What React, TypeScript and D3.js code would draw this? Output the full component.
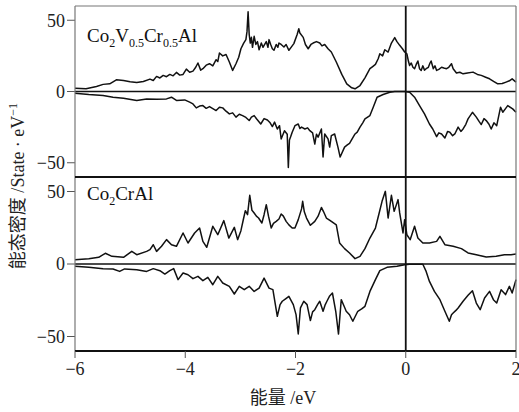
import React from "react";
import * as d3 from "d3";

// Energy relative to the Fermi level (eV) and density of states (states/eV)
const energyTicks = [-6, -4, -2, 0, 2];
const dosTicks = [-50, 0, 50];

// Co2V0.5Cr0.5Al, spin up
const vcrUp: [number, number][] = [
  [-6.0, 2.3], [-5.8, 2.0], [-5.61, 3.5], [-5.49, 5], [-5.37, 5.4], [-5.25, 8.2], [-5.12, 7.7],
  [-5.0, 6.8], [-4.88, 6.3], [-4.76, 7], [-4.64, 8.7], [-4.58, 7.7], [-4.52, 10.6], [-4.46, 9.5],
  [-4.4, 11.3], [-4.34, 10.4], [-4.28, 12], [-4.22, 11], [-4.16, 13.4], [-4.1, 11.5], [-4.04, 12],
  [-3.98, 15.7], [-3.92, 13.5], [-3.86, 14.3], [-3.81, 17], [-3.77, 20], [-3.72, 15], [-3.68, 16],
  [-3.62, 18.5], [-3.56, 19.5], [-3.5, 18], [-3.44, 22.3], [-3.41, 21], [-3.38, 27], [-3.32, 25],
  [-3.26, 26], [-3.2, 20.7], [-3.14, 14.8], [-3.08, 19.5], [-3.03, 24], [-2.99, 30], [-2.94, 34],
  [-2.9, 36.4], [-2.88, 42], [-2.86, 56], [-2.84, 40], [-2.82, 34], [-2.8, 38], [-2.78, 31],
  [-2.75, 38.7], [-2.72, 33], [-2.69, 35], [-2.66, 29.3], [-2.62, 34], [-2.59, 31], [-2.57, 32.4],
  [-2.53, 35], [-2.5, 31], [-2.48, 36.4], [-2.45, 33], [-2.42, 30], [-2.39, 28.9], [-2.35, 33],
  [-2.32, 31], [-2.3, 34], [-2.26, 33], [-2.21, 31.2], [-2.17, 33], [-2.12, 28.9], [-2.08, 31],
  [-2.03, 33.6], [-1.97, 40], [-1.94, 44], [-1.92, 41], [-1.86, 38], [-1.82, 33], [-1.77, 30],
  [-1.72, 33], [-1.68, 34], [-1.62, 35], [-1.56, 34], [-1.52, 32], [-1.47, 33], [-1.41, 30],
  [-1.35, 27.7], [-1.26, 20.7], [-1.16, 12], [-1.07, 5.4], [-0.98, 2.6], [-0.92, 1.9], [-0.83, 4.2],
  [-0.74, 9.6], [-0.65, 16], [-0.6, 17.5], [-0.55, 19], [-0.5, 23], [-0.47, 26.5], [-0.42, 25],
  [-0.38, 29.3], [-0.32, 27.7], [-0.26, 34], [-0.2, 37.8], [-0.16, 35], [-0.11, 32.4], [-0.06, 30],
  [-0.02, 27.7], [0.02, 26.5], [0.05, 21], [0.07, 18.3], [0.1, 20], [0.13, 17], [0.16, 16],
  [0.19, 19], [0.22, 21.4], [0.25, 16], [0.28, 14.8], [0.31, 18], [0.34, 15], [0.37, 16],
  [0.41, 17], [0.44, 20], [0.46, 21.4], [0.5, 16], [0.53, 18], [0.56, 14.8], [0.6, 15.5],
  [0.65, 17], [0.69, 16.5], [0.74, 16], [0.78, 17], [0.83, 19.5], [0.86, 16], [0.92, 13],
  [0.98, 13.5], [1.04, 12.4], [1.12, 13], [1.22, 13.6], [1.3, 12], [1.37, 11.3], [1.45, 10],
  [1.52, 8.9], [1.6, 7], [1.67, 5.4], [1.75, 5.6], [1.82, 6.6], [1.88, 7.5], [1.93, 8.9], [2.0, 6.6],
];

// Co2V0.5Cr0.5Al, spin down
const vcrDown: [number, number][] = [
  [-6.0, -1.2], [-5.75, -2.1], [-5.49, -2.8], [-5.31, -4], [-5.12, -4.7], [-4.88, -6.3], [-4.7, -5.2],
  [-4.52, -5.4], [-4.34, -5.2], [-4.25, -4], [-4.16, -6.3], [-4.01, -5.9], [-3.92, -7.5],
  [-3.86, -8.7], [-3.8, -11.5], [-3.74, -10.2], [-3.68, -9.9], [-3.62, -11.8], [-3.56, -10.6],
  [-3.5, -12], [-3.44, -13.4], [-3.38, -11], [-3.32, -11.5], [-3.26, -13.8], [-3.2, -15.7],
  [-3.14, -15], [-3.08, -18], [-3.02, -16], [-2.96, -16.9], [-2.9, -18.2], [-2.84, -20.4],
  [-2.8, -18], [-2.75, -16.9], [-2.7, -19.5], [-2.63, -22.8], [-2.57, -19], [-2.51, -20],
  [-2.46, -22], [-2.42, -24.6], [-2.38, -21.5], [-2.33, -26.3], [-2.29, -24], [-2.26, -33.3],
  [-2.2, -27.5], [-2.15, -30], [-2.13, -53.3], [-2.11, -34], [-2.09, -32], [-2.06, -28.6],
  [-2.01, -24], [-1.95, -22.8], [-1.92, -26], [-1.89, -25], [-1.83, -26.3], [-1.78, -25.5],
  [-1.74, -27.5], [-1.69, -29], [-1.65, -36.9], [-1.62, -30], [-1.59, -32], [-1.53, -26.3],
  [-1.5, -46], [-1.47, -29.8], [-1.41, -33.3], [-1.38, -39], [-1.35, -31], [-1.29, -29.8],
  [-1.23, -39], [-1.19, -46], [-1.11, -39], [-1.06, -37.5], [-1.02, -36.4], [-0.97, -33],
  [-0.92, -29.8], [-0.88, -28.5], [-0.83, -25], [-0.78, -22], [-0.74, -19.2], [-0.65, -16.9],
  [-0.59, -11], [-0.52, -4], [-0.41, -2.1], [-0.29, -0.5], [-0.2, 0], [-0.02, 0], [0.07, -0.5],
  [0.16, -4], [0.25, -9.9], [0.34, -15.7], [0.43, -22.8], [0.49, -26.3], [0.56, -31.7], [0.6, -29],
  [0.65, -29.8], [0.71, -32.6], [0.76, -28], [0.8, -28.6], [0.85, -31], [0.89, -29.8], [0.95, -25],
  [1.0, -28], [1.04, -26.3], [1.09, -23], [1.13, -19.2], [1.21, -14.6], [1.28, -18], [1.33, -21],
  [1.37, -23.2], [1.42, -19], [1.46, -20.4], [1.51, -23], [1.55, -26.3], [1.6, -22], [1.65, -24],
  [1.72, -11], [1.76, -14.6], [1.81, -12], [1.85, -9.9], [1.94, -12.2], [2.0, -14.6],
];

// Co2CrAl, spin up
const crUp: [number, number][] = [
  [-6.0, 3], [-5.75, 3.7], [-5.57, 4.6], [-5.45, 7.4], [-5.33, 5.3], [-5.12, 4.6], [-4.97, 8.7],
  [-4.88, 6.4], [-4.7, 8.7], [-4.64, 9.9], [-4.58, 13.3], [-4.52, 8.7], [-4.43, 12.2], [-4.34, 16.8],
  [-4.25, 13.3], [-4.16, 12.2], [-4.04, 21.4], [-3.95, 14.5], [-3.83, 21.4], [-3.74, 24.8],
  [-3.68, 15.6], [-3.61, 11.5], [-3.5, 26], [-3.41, 20.2], [-3.3, 29.9], [-3.21, 17.9], [-3.11, 25.3],
  [-3.05, 16.8], [-2.99, 23], [-2.95, 30], [-2.91, 36.8], [-2.87, 34], [-2.83, 47.4], [-2.79, 37],
  [-2.75, 35.2], [-2.71, 33], [-2.67, 31.7], [-2.61, 28.3], [-2.57, 34], [-2.53, 40.9], [-2.49, 33],
  [-2.44, 24.8], [-2.4, 28], [-2.35, 29.4], [-2.3, 31], [-2.26, 34.5], [-2.22, 33], [-2.17, 29.4],
  [-2.12, 27], [-2.06, 24.8], [-2.01, 24.8], [-1.95, 30.6], [-1.89, 38], [-1.87, 43.2], [-1.84, 36],
  [-1.8, 31.7], [-1.73, 26.7], [-1.65, 29.4], [-1.59, 33], [-1.53, 39], [-1.49, 36], [-1.44, 31.7],
  [-1.39, 30.5], [-1.35, 29.4], [-1.26, 27], [-1.2, 14.5], [-1.11, 10.6], [-1.02, 7.6], [-0.92, 3.7],
  [-0.83, 5.3], [-0.74, 10.6], [-0.65, 17.9], [-0.55, 24.8], [-0.49, 34], [-0.43, 43.2], [-0.37, 50.1],
  [-0.32, 31.7], [-0.26, 47.4], [-0.21, 36.3], [-0.14, 44.4], [-0.11, 35.2], [-0.05, 21.4],
  [-0.02, 30.6], [0.02, 20.2], [0.08, 16.8], [0.16, 26], [0.22, 17.9], [0.31, 14.5], [0.43, 14.5],
  [0.56, 15.6], [0.62, 19.1], [0.71, 13.3], [0.86, 12.2], [1.01, 10.6], [1.13, 7.6], [1.28, 6.4],
  [1.46, 4.8], [1.64, 5.3], [1.79, 6.4], [1.91, 6.4], [2.0, 6.9],
];

// Co2CrAl, spin down
const crDown: [number, number][] = [
  [-6.0, -1.6], [-5.75, -2.3], [-5.49, -3.2], [-5.31, -3.4], [-5.19, -5.1], [-5.1, -3.4], [-4.88, -3.9],
  [-4.7, -5.1], [-4.58, -3.2], [-4.46, -4.6], [-4.37, -6.9], [-4.28, -4.6], [-4.21, -3.2],
  [-4.13, -10.8], [-4.04, -6.2], [-3.95, -7.4], [-3.86, -10.1], [-3.77, -8.5], [-3.68, -11.5],
  [-3.59, -9.2], [-3.5, -14.3], [-3.41, -8.5], [-3.32, -13.1], [-3.2, -15.4], [-3.11, -20.7],
  [-3.02, -15.4], [-2.93, -17.7], [-2.84, -15.4], [-2.75, -18.9], [-2.66, -16.6], [-2.57, -9.7],
  [-2.48, -16.6], [-2.41, -17.7], [-2.33, -36.1], [-2.28, -28], [-2.24, -25.7], [-2.18, -24],
  [-2.12, -22.3], [-2.04, -28], [-1.99, -34.9], [-1.95, -48.3], [-1.91, -30.3], [-1.85, -25.7],
  [-1.79, -28], [-1.73, -39], [-1.69, -33], [-1.65, -31.5], [-1.6, -28], [-1.56, -25.7], [-1.5, -32.6],
  [-1.46, -28], [-1.43, -25.7], [-1.38, -22], [-1.33, -20], [-1.27, -32.6], [-1.22, -48.3],
  [-1.17, -24.6], [-1.12, -29], [-1.08, -32.6], [-1.02, -35], [-0.96, -39.5], [-0.87, -32.6],
  [-0.8, -31], [-0.74, -29.2], [-0.65, -18.9], [-0.55, -10.8], [-0.47, -4.6], [-0.34, -2.3],
  [-0.16, -1.6], [-0.02, -0.5], [0.07, -0.2], [0.31, -0.2], [0.37, -5.1], [0.43, -12], [0.52, -18.9],
  [0.62, -24.6], [0.71, -32.6], [0.79, -39.5], [0.83, -35], [0.86, -33.8], [0.91, -32], [0.95, -30.3],
  [1.04, -25.7], [1.13, -21.6], [1.21, -18.4], [1.28, -26.9], [1.35, -31.5], [1.43, -23.4],
  [1.52, -18.9], [1.59, -24.6], [1.65, -26.9], [1.73, -17.7], [1.81, -21.1], [1.88, -15.4],
  [1.93, -20], [2.0, -10.8],
];

const W = 519;
const H = 412;
const left = 75;
const right = 516;
const serif = "'Liberation Serif', 'Times New Roman', serif";
const cjk = "'Noto Sans CJK SC', 'Liberation Serif', serif";

const x = d3.scaleLinear().domain([-6, 2]).range([left, right]);
const yTop = d3.scaleLinear().domain([-60, 60]).range([177, 6]);
const yBot = d3.scaleLinear().domain([-60, 60]).range([351, 177]);

const fmt = (v: number) => (v < 0 ? "\u2212" + Math.abs(v) : String(v));

function Curve({ data, y }: { data: [number, number][]; y: d3.ScaleLinear<number, number> }) {
  const line = d3
    .line<[number, number]>()
    .x((d) => x(d[0]))
    .y((d) => y(d[1]));
  return <path d={line(data) ?? ""} fill="none" stroke="#111" strokeWidth={1.5} strokeLinejoin="round" />;
}

function YAxis({ y }: { y: d3.ScaleLinear<number, number> }) {
  return (
    <g>
      {dosTicks.map((t) => (
        <g key={t}>
          <line x1={left - 8} x2={left} y1={y(t)} y2={y(t)} stroke="#555" strokeWidth={1} />
          <text
            x={left - 10}
            y={y(t)}
            dy="0.35em"
            textAnchor="end"
            fontFamily={serif}
            fontSize={18}
            fill="#222"
          >
            {fmt(t)}
          </text>
        </g>
      ))}
      <line x1={left} x2={right} y1={y(0)} y2={y(0)} stroke="#111" strokeWidth={1.6} />
    </g>
  );
}

export default function App() {
  const sub = { fontSize: 12 };
  return (
    <svg
      width={W}
      height={H}
      style={{ position: "absolute", left: 0, top: 0, background: "#fff" }}
    >
      <rect width={W} height={H} fill="#fff" />
      <YAxis y={yTop} />
      <YAxis y={yBot} />

      <Curve data={vcrUp} y={yTop} />
      <Curve data={vcrDown} y={yTop} />
      <Curve data={crUp} y={yBot} />
      <Curve data={crDown} y={yBot} />

      {/* frame */}
      <line x1={left} x2={right} y1={6} y2={6} stroke="#777" strokeWidth={1.2} />
      <line x1={left} x2={left} y1={6} y2={351} stroke="#777" strokeWidth={1.2} />
      <line x1={right} x2={right} y1={6} y2={351} stroke="#777" strokeWidth={1.2} />
      <line x1={left} x2={right} y1={177} y2={177} stroke="#111" strokeWidth={1.8} />
      <line x1={left} x2={right} y1={351} y2={351} stroke="#111" strokeWidth={1.8} />
      {/* Fermi level */}
      <line x1={x(0)} x2={x(0)} y1={6} y2={351} stroke="#111" strokeWidth={1.8} />

      {/* x axis */}
      {energyTicks.map((t) => (
        <g key={t}>
          <line x1={x(t)} x2={x(t)} y1={351} y2={358} stroke="#555" strokeWidth={1} />
          <text x={x(t)} y={375} textAnchor="middle" fontFamily={serif} fontSize={18} fill="#222">
            {fmt(t)}
          </text>
        </g>
      ))}
      <text x={283} y={404} textAnchor="middle" fontSize={18} fill="#222">
        <tspan fontFamily={cjk}>能量</tspan>
        <tspan fontFamily={serif}> /eV</tspan>
      </text>

      {/* y axis title */}
      <text
        transform="translate(24,186) rotate(-90)"
        textAnchor="middle"
        fontSize={18}
        fill="#222"
      >
        <tspan fontFamily={cjk}>能态密度</tspan>
        <tspan fontFamily={serif}> /State · eV</tspan>
        <tspan fontFamily={serif} fontSize={12} dy={-7}>
          {"\u22121"}
        </tspan>
      </text>

      {/* compound labels */}
      <text x={87} y={42} fontFamily={serif} fontSize={19} fill="#111">
        Co<tspan {...sub} dy={5}>2</tspan>
        <tspan dy={-5}>V</tspan>
        <tspan {...sub} dy={5}>0.5</tspan>
        <tspan dy={-5}>Cr</tspan>
        <tspan {...sub} dy={5}>0.5</tspan>
        <tspan dy={-5}>Al</tspan>
      </text>
      <text x={87} y={200} fontFamily={serif} fontSize={19} fill="#111">
        Co<tspan {...sub} dy={5}>2</tspan>
        <tspan dy={-5}>CrAl</tspan>
      </text>
    </svg>
  );
}
